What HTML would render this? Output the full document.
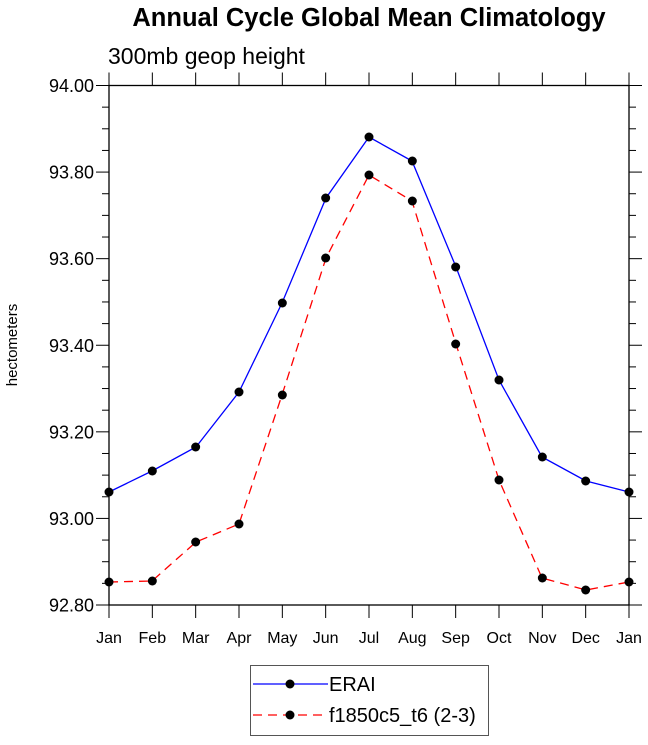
<!DOCTYPE html>
<html><head><style>body{margin:0;background:#fff}</style></head><body>
<svg width="648" height="740" xmlns="http://www.w3.org/2000/svg" font-family="Liberation Sans, Arial, sans-serif">
<rect width="648" height="740" fill="#fff"/>
<text x="369" y="26" font-size="25.5" font-weight="bold" text-anchor="middle">Annual Cycle Global Mean Climatology</text>
<text x="108" y="64" font-size="23">300mb geop height</text>
<text x="17" y="345" font-size="15" text-anchor="middle" transform="rotate(-90 17 345)">hectometers</text>
<g stroke="#000" stroke-width="1" id="ticks">
<rect x="109" y="85.5" width="520" height="519.5" fill="none" stroke-width="1.3"/>
</g>
<g id="tk" stroke="#000" stroke-width="1"></g>
<g font-size="18" text-anchor="end" id="yl"></g>
<g font-size="16" text-anchor="middle" id="xl"></g>
<polyline fill="none" stroke="#0000ff" stroke-width="1.3" points="109,492 152,471 196,447 239,392 282,303 326,198 369,137 412,161 456,267 499,380 542,457 586,481 629,492"/>
<polyline fill="none" stroke="#ff0000" stroke-width="1.3" stroke-dasharray="9,6" points="109,582 152,581 196,542 239,524 282,395 326,258 369,175 412,201 456,344 499,480 542,578 586,590 629,582"/>
<g fill="#000" id="dots"></g>
<rect x="250.5" y="665.5" width="238" height="70" fill="#fff" stroke="#555"/>
<line x1="253" y1="684" x2="328" y2="684" stroke="#0000ff" stroke-width="1.3"/>
<circle cx="290" cy="684" r="4.5"/>
<text x="329" y="691" font-size="20">ERAI</text>
<line x1="253" y1="715" x2="328" y2="715" stroke="#ff0000" stroke-width="1.3" stroke-dasharray="9,6"/>
<circle cx="290" cy="715" r="4.5"/>
<text x="329" y="722" font-size="20">f1850c5_t6 (2-3)</text>
</svg>
<script>
var ns="http://www.w3.org/2000/svg";
function el(p,t,a,txt){var e=document.createElementNS(ns,t);for(var k in a)e.setAttribute(k,a[k]);if(txt)e.textContent=txt;document.getElementById(p).appendChild(e);}
var X0=109,dx=520/12,Y0=85.5,Y1=605,ph=(Y1-Y0);
var m=["Jan","Feb","Mar","Apr","May","Jun","Jul","Aug","Sep","Oct","Nov","Dec","Jan"];
for(var i=0;i<13;i++){var x=X0+i*dx;
el("tk","line",{x1:x,x2:x,y1:Y0,y2:Y0-13});
el("tk","line",{x1:x,x2:x,y1:Y1,y2:Y1+13});
el("xl","text",{x:x,y:643},m[i]);}
for(var j=0;j<=24;j++){var y=Y0+j*ph/24;var L=(j%4==0)?13:7;
el("tk","line",{x1:X0,x2:X0-L,y1:y,y2:y});
el("tk","line",{x1:629,x2:629+L,y1:y,y2:y});
if(j%4==0)el("yl","text",{x:94,y:y+6.5},(94-j*0.05).toFixed(2));}
var b=[492,471,447,392,303,198,137,161,267,380,457,481,492],r=[582,581,542,524,395,258,175,201,344,480,578,590,582];
for(var i=0;i<13;i++){el("dots","circle",{cx:X0+i*dx,cy:b[i],r:4.5});el("dots","circle",{cx:X0+i*dx,cy:r[i],r:4.5});}
</script>
</body></html>
